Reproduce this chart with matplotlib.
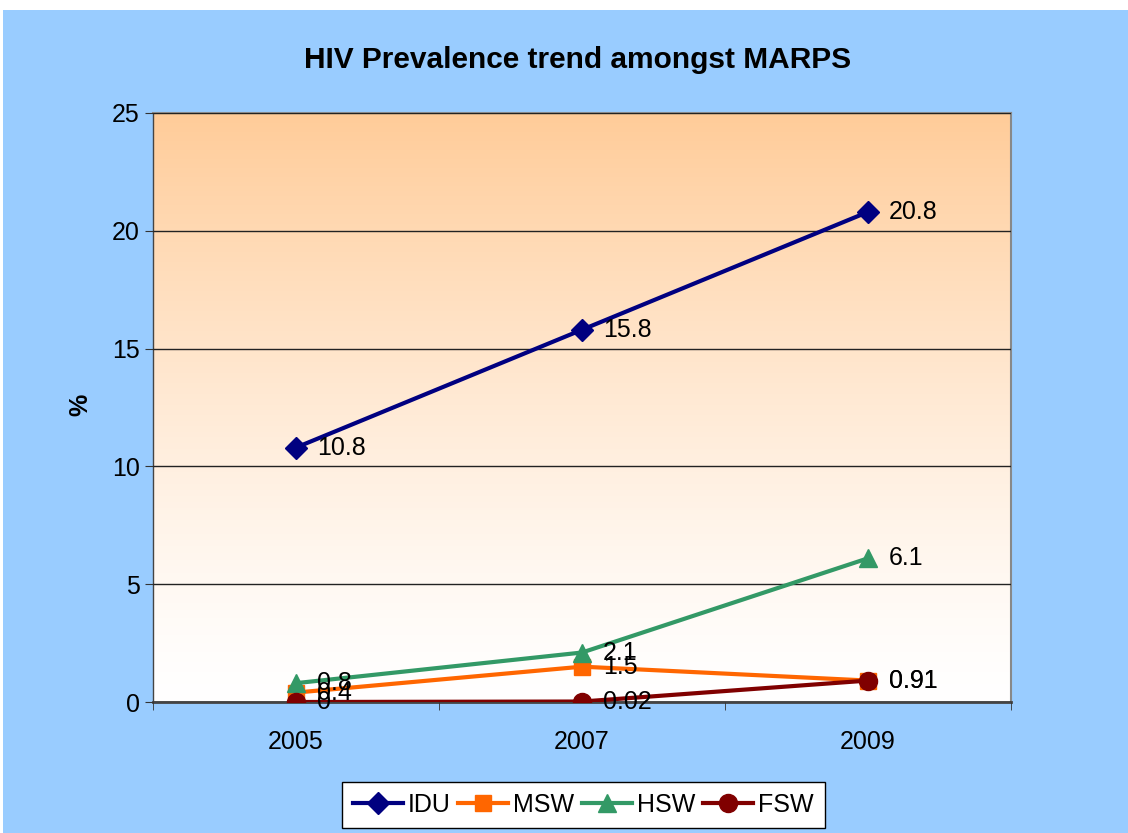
import matplotlib.pyplot as plt
import matplotlib.patches as mpatches
import numpy as np

plt.rcParams['font.family'] = ['Liberation Sans', 'DejaVu Sans']

years = ['2005', '2007', '2009']
idu = [10.8, 15.8, 20.8]
msw = [0.4, 1.5, 0.91]
hsw = [0.8, 2.1, 6.1]
fsw = [0, 0.02, 0.91]
labels_idu = ['10.8', '15.8', '20.8']
labels_msw = ['0.4', '1.5', '0.91']
labels_hsw = ['0.8', '2.1', '6.1']
labels_fsw = ['0', '0.02', '0.91']

fig = plt.figure(figsize=(11.28, 8.33), dpi=100)
fig.patch.set_facecolor('white')
# blue chart area (white strip at top/left like the screenshot)
fig.patches.append(mpatches.Rectangle((3 / 1128, 0), 1 - 3 / 1128, 1 - 10 / 833,
                                      transform=fig.transFigure, facecolor='#99CCFF',
                                      edgecolor='none', zorder=-10))

ax = fig.add_axes([153 / 1128, 1 - 702 / 833, (1011 - 153) / 1128, (702 - 113) / 833])
ax.set_facecolor('none')

# gradient background
grad = np.linspace(0, 1, 256).reshape(-1, 1)
top = np.array([1.0, 0.80, 0.60])
bot = np.array([1.0, 1.0, 1.0])
img = bot + (top - bot) * grad[..., None] ** 1.3
img = img.reshape(256, 1, 3)
ax.imshow(img, extent=[-0.5, 2.5, 0, 25], origin='lower', aspect='auto', zorder=0)

x = np.arange(len(years))
series = [
    (idu, labels_idu, 'IDU', '#000080', 'D', 11),
    (msw, labels_msw, 'MSW', '#FF6600', 's', 11),
    (hsw, labels_hsw, 'HSW', '#339966', '^', 13),
    (fsw, labels_fsw, 'FSW', '#800000', 'o', 13),
]
for vals, labs, name, col, mk, ms in series:
    ax.plot(x, vals, color=col, lw=3, marker=mk, markersize=ms, label=name, zorder=3)
    for xi, v, t in zip(x, vals, labs):
        ax.annotate(t, (xi, v), xytext=(15, 0), textcoords='offset points',
                    va='center', ha='left', fontsize=18, zorder=4)

ax.set_xlim(-0.5, 2.5)
ax.set_ylim(0, 25)
ax.set_yticks([0, 5, 10, 15, 20, 25])
ax.set_xticks(x)
ax.set_xticklabels(years)
ax.set_xticks([-0.5, 0.5, 1.5, 2.5], minor=True)
ax.tick_params(axis='x', which='major', length=0, pad=20, labelsize=18)
ax.tick_params(axis='x', which='minor', length=6, color='#333333')
ax.tick_params(axis='y', length=6, labelsize=18, color='#333333')
ax.grid(axis='y', color='#222222', lw=1, zorder=1)
ax.set_axisbelow(False)
for s in ['top', 'right']:
    ax.spines[s].set_color('#888888')
    ax.spines[s].set_linewidth(1.5)
ax.spines['bottom'].set_color('#444444')
ax.spines['bottom'].set_linewidth(2)
ax.spines['left'].set_color('#444444')
ax.spines['left'].set_linewidth(1)

fig.text(578 / 1128, 1 - 60 / 833, 'HIV Prevalence trend amongst MARPS',
         ha='center', va='center', fontsize=21.5, fontweight='bold')
fig.text(80 / 1128, 1 - 405 / 833, '%', ha='center', va='center', rotation=90,
         fontsize=18, fontweight='bold')

leg = fig.legend(loc='center', bbox_to_anchor=(583 / 1128, 1 - 805 / 833), ncol=4,
                 fontsize=18, frameon=True, fancybox=False, edgecolor='black',
                 facecolor='white', framealpha=1, handlelength=2.0,
                 columnspacing=0.3, handletextpad=0.2, borderpad=0.45)
leg.get_frame().set_linewidth(1)

fig.savefig('out.png', dpi=100)
